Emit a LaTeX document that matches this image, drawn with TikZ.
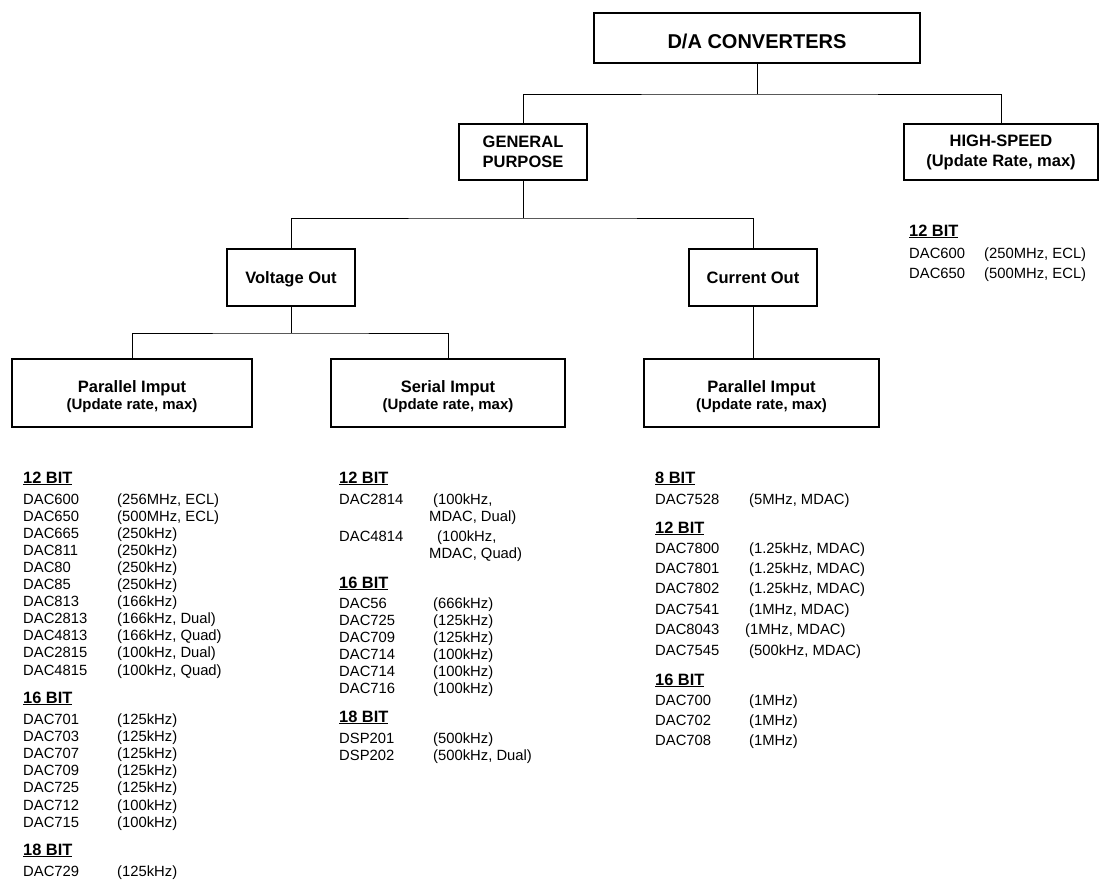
\documentclass[tikz,border=0pt]{standalone}
\usepackage{fontspec}
\setmainfont{Liberation Sans}
\tikzset{%
  catbox/.style={draw, line width=1.1pt, align=center, inner sep=0pt,
    font=\bfseries\fontsize{16.5}{20}\selectfont},
  oneline/.style={text height=11.8pt, text depth=0pt},
  twoline/.style={text height=33pt, text depth=0pt},
  bus/.style={line width=0.9pt},
  bitlabel/.style={anchor=base west, inner sep=0pt,
    font=\bfseries\fontsize{16.4}{20}\selectfont},
  partname/.style={anchor=base west, inner sep=0pt,
    font=\fontsize{14.8}{17}\selectfont},
}
\newcommand{\subline}[1]{{\fontsize{15}{18}\selectfont #1}}

\begin{document}
\begin{tikzpicture}[x=1pt, y=-1pt]

  % page frame, one unit per pixel
  \useasboundingbox (0,0) rectangle (1107,880);

  % the boxes of the tree
  \node[catbox, font=\bfseries\fontsize{20}{24}\selectfont, text height=20.3pt, text depth=0pt,
    minimum width=326pt, minimum height=50pt] (dac) at (757,38) {D/A CONVERTERS};
  \node[catbox, minimum width=128pt, minimum height=56pt] (gp) at (523,152) {GENERAL\\PURPOSE};
  \node[catbox, minimum width=194pt, minimum height=56pt] (hs) at (1001,152) {HIGH-SPEED\\(Update Rate, max)};
  \node[catbox, oneline, minimum width=128pt, minimum height=57pt] (vout) at (291,277.5) {Voltage Out};
  \node[catbox, oneline, minimum width=128pt, minimum height=57pt] (iout) at (753,277.5) {Current Out};
  \node[catbox, twoline, minimum width=240pt, minimum height=68pt] (vpar) at (132,393) {Parallel Imput\\[-2.5pt]\subline{(Update rate, max)}};
  \node[catbox, twoline, minimum width=234pt, minimum height=68pt] (vser) at (448,393) {Serial Imput\\[-2.5pt]\subline{(Update rate, max)}};
  \node[catbox, twoline, minimum width=235pt, minimum height=68pt] (ipar) at (761.5,393) {Parallel Imput\\[-2.5pt]\subline{(Update rate, max)}};

  % bus points where the branches split
  \coordinate (busdac) at (757,94);
  \coordinate (busgp) at (523,218);
  \coordinate (busv) at (291,333);

  % connectors
  \draw[bus] (dac.south) -- (busdac);
  \draw[bus] (gp.north) |- (busdac) -| (hs.north);
  \draw[bus] (gp.south) -- (busgp);
  \draw[bus] (vout.north) |- (busgp) -| (iout.north);
  \draw[bus] (vout.south) -- (busv);
  \draw[bus] (vpar.north) |- (busv) -| (vser.north);
  \draw[bus] (iout.south) -- (iout.south |- ipar.north);

  % high-speed parts
  \node[bitlabel] (hs12) at (909,236) {\underline{12 BIT}};
  \foreach \part/\rate [count=\i] in {DAC600/{(250MHz, ECL)}, DAC650/{(500MHz, ECL)}}
    \node[partname] (hs12-\i) at (909,{258+(\i-1)*20}) {\part}
    node[partname] (hs12r-\i) at (984,{258+(\i-1)*20}) {\rate};

  % voltage out, parallel input parts
  \node[bitlabel] (vp12) at (23,483) {\underline{12 BIT}};
  \foreach \part/\rate [count=\i] in {DAC600/{(256MHz, ECL)}, DAC650/{(500MHz, ECL)},
      DAC665/(250kHz), DAC811/(250kHz), DAC80/(250kHz), DAC85/(250kHz), DAC813/(166kHz),
      DAC2813/{(166kHz, Dual)}, DAC4813/{(166kHz, Quad)}, DAC2815/{(100kHz, Dual)},
      DAC4815/{(100kHz, Quad)}}
    \node[partname] (vp12-\i) at (23,{504+(\i-1)*17.1}) {\part}
    node[partname] (vp12r-\i) at (117,{504+(\i-1)*17.1}) {\rate};
  \node[bitlabel] (vp16) at (23,703) {\underline{16 BIT}};
  \foreach \part/\rate [count=\i] in {DAC701/(125kHz), DAC703/(125kHz), DAC707/(125kHz),
      DAC709/(125kHz), DAC725/(125kHz), DAC712/(100kHz), DAC715/(100kHz)}
    \node[partname] (vp16-\i) at (23,{724+(\i-1)*17.2}) {\part}
    node[partname] (vp16r-\i) at (117,{724+(\i-1)*17.2}) {\rate};
  \node[bitlabel] (vp18) at (23,855) {\underline{18 BIT}};
  \node[partname] (vp18-1) at (23,876) {DAC729};
  \node[partname] (vp18r-1) at (117,876) {(125kHz)};

  % voltage out, serial input parts
  \node[bitlabel] (vs12) at (339,483) {\underline{12 BIT}};
  \node[partname] (vs12-1) at (339,504) {DAC2814};
  \node[partname] (vs12r-1) at (433,504) {(100kHz,};
  \node[partname] (vs12s-1) at (429,521) {MDAC, Dual)};
  \node[partname] (vs12-2) at (339,541) {DAC4814};
  \node[partname] (vs12r-2) at (437,541) {(100kHz,};
  \node[partname] (vs12s-2) at (429,558) {MDAC, Quad)};
  \node[bitlabel] (vs16) at (339,588) {\underline{16 BIT}};
  \foreach \part/\rate [count=\i] in {DAC56/(666kHz), DAC725/(125kHz), DAC709/(125kHz),
      DAC714/(100kHz), DAC714/(100kHz), DAC716/(100kHz)}
    \node[partname] (vs16-\i) at (339,{608+(\i-1)*17}) {\part}
    node[partname] (vs16r-\i) at (433,{608+(\i-1)*17}) {\rate};
  \node[bitlabel] (vs18) at (339,722) {\underline{18 BIT}};
  \foreach \part/\rate [count=\i] in {DSP201/(500kHz), DSP202/{(500kHz, Dual)}}
    \node[partname] (vs18-\i) at (339,{743+(\i-1)*17}) {\part}
    node[partname] (vs18r-\i) at (433,{743+(\i-1)*17}) {\rate};

  % current out, parallel input parts
  \node[bitlabel] (ip8) at (655,483) {\underline{8 BIT}};
  \node[partname] (ip8-1) at (655,504) {DAC7528};
  \node[partname] (ip8r-1) at (749,504) {(5MHz, MDAC)};
  \node[bitlabel] (ip12) at (655,533) {\underline{12 BIT}};
  \foreach \part/\rate/\rx [count=\i] in {DAC7800/{(1.25kHz, MDAC)}/749, DAC7801/{(1.25kHz, MDAC)}/749,
      DAC7802/{(1.25kHz, MDAC)}/749, DAC7541/{(1MHz, MDAC)}/749, DAC8043/{(1MHz, MDAC)}/745,
      DAC7545/{(500kHz, MDAC)}/749}
    \node[partname] (ip12-\i) at (655,{553+(\i-1)*20.4}) {\part}
    node[partname] (ip12r-\i) at (\rx,{553+(\i-1)*20.4}) {\rate};
  \node[bitlabel] (ip16) at (655,685) {\underline{16 BIT}};
  \foreach \part/\rate [count=\i] in {DAC700/(1MHz), DAC702/(1MHz), DAC708/(1MHz)}
    \node[partname] (ip16-\i) at (655,{705+(\i-1)*20}) {\part}
    node[partname] (ip16r-\i) at (749,{705+(\i-1)*20}) {\rate};

\end{tikzpicture}
\end{document}
